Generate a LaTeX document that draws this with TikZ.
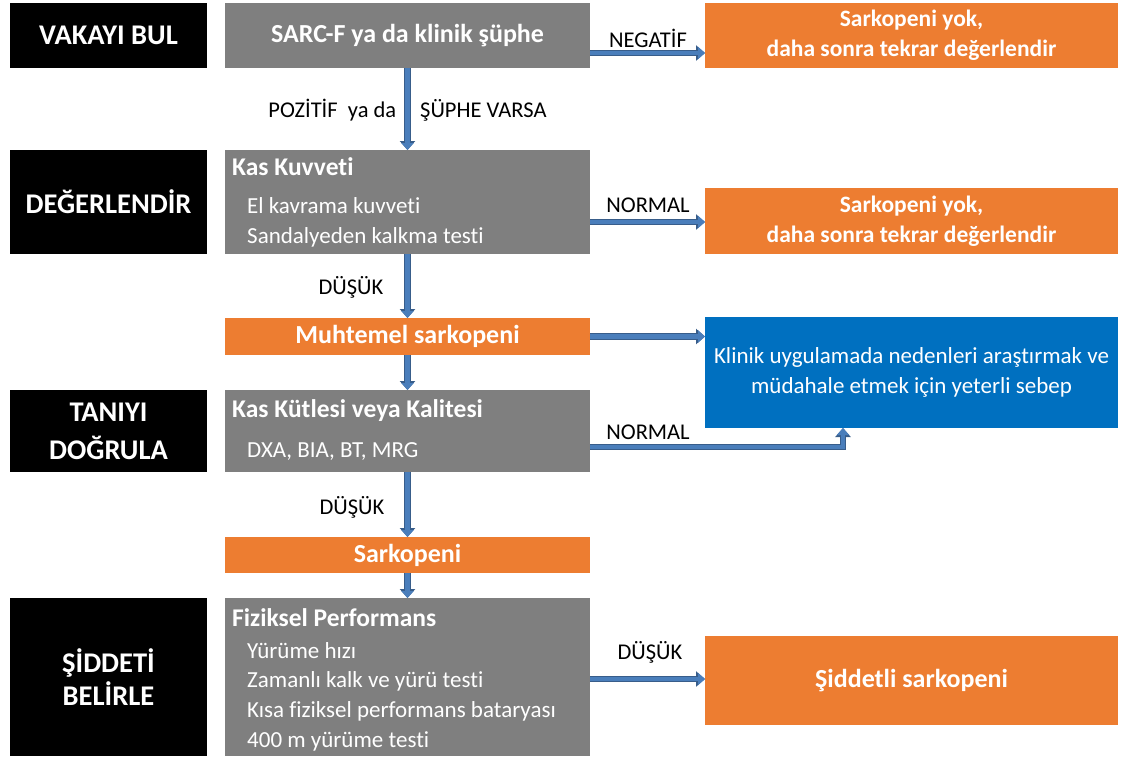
\documentclass[tikz,border=0pt]{standalone}
\usepackage{fontspec}
\setmainfont{Carlito}[Ligatures=NoCommon]
\usetikzlibrary{arrows.meta}
\definecolor{gboxc}{RGB}{127,127,127}
\definecolor{oboxc}{RGB}{237,125,49}
\definecolor{bboxc}{RGB}{0,112,192}
\definecolor{arrc}{RGB}{74,126,187}
\definecolor{arrd}{RGB}{56,93,138}
\begin{document}
\begin{tikzpicture}[x=1pt,y=-1pt,
  base/.style={inner sep=0pt, outer sep=0pt, text=white, align=center},
  blk/.style={base, fill=black, minimum width=197pt, font=\bfseries\fontsize{28.5}{38}\selectfont},
  gry/.style={base, fill=gboxc, minimum width=365pt},
  org/.style={base, fill=oboxc, font=\bfseries\fontsize{26}{30}\selectfont},
  orgr/.style={org, minimum width=413pt, font=\bfseries\fontsize{23.5}{30}\selectfont},
  blu/.style={base, fill=bboxc, minimum width=413pt, font=\fontsize{23}{30}\selectfont},
  ttl/.style={anchor=west, inner sep=0pt, text=white, font=\bfseries\fontsize{25.5}{28}\selectfont},
  itm/.style={anchor=west, inner sep=0pt, text=white, font=\fontsize{23}{26}\selectfont},
  lbl/.style={inner sep=0pt, text=black, font=\fontsize{22.5}{26}\selectfont},
  arr/.style={preaction={draw=arrd, line width=6.5pt, -{Triangle[width=15pt,length=9pt]}},
              draw=arrc, line width=4.5pt, -{Triangle[width=12pt,length=7pt]}}
]
\useasboundingbox (0,0) rectangle (1121,758);
% left column
\node[blk, minimum height=65pt] (b1) at (108.5,35.5) {VAKAYI BUL};
\node[blk, minimum height=104pt] (b2) at (108.5,202) {DEĞERLENDİR};
\node[blk, minimum height=82pt] (b3) at (108.5,431) {TANIYI\\DOĞRULA};
\node[blk, minimum height=158pt, font=\bfseries\fontsize{28.5}{33}\selectfont] (b4) at (108.5,677) {ŞİDDETİ\\BELİRLE};
% gray column
\node[gry, minimum height=65pt, font=\bfseries\fontsize{26}{30}\selectfont] (sarc) at (407.5,35.5) {SARC-F ya da klinik şüphe};
\node[gry, minimum height=104pt] (kk) at (407.5,202) {};
\node[ttl] (kkt) at (232,167) {Kas Kuvveti};
\node[itm] (kk1) at (247,206) {El kavrama kuvveti};
\node[itm] (kk2) at (247,237) {Sandalyeden kalkma testi};
\node[org, minimum width=365pt, minimum height=37pt] (muh) at (407.5,336.5) {Muhtemel sarkopeni};
\node[gry, minimum height=82pt] (kut) at (407.5,431) {};
\node[ttl] (kutt) at (232,411) {Kas Kütlesi veya Kalitesi};
\node[itm] (kut1) at (247,452) {DXA, BIA, BT, MRG};
\node[org, minimum width=365pt, minimum height=36pt] (sark) at (407.5,555) {Sarkopeni};
\node[gry, minimum height=158pt] (fiz) at (407.5,677) {};
\node[ttl] (fizt) at (232,618) {Fiziksel Performans};
\node[itm] (fiz1) at (247,651) {Yürüme hızı};
\node[itm] (fiz2) at (247,681) {Zamanlı kalk ve yürü testi};
\node[itm] (fiz3) at (247,711) {Kısa fiziksel performans bataryası};
\node[itm] (fiz4) at (247,741) {400 m yürüme testi};
% right column
\node[orgr, minimum height=65pt] (r1) at (911.5,35.5) {Sarkopeni yok,\\daha sonra tekrar değerlendir};
\node[orgr, minimum height=66pt] (r2) at (911.5,221) {Sarkopeni yok,\\daha sonra tekrar değerlendir};
\node[blu, minimum height=111pt] (blue) at (911.5,372.5) {Klinik uygulamada nedenleri araştırmak ve\\müdahale etmek için yeterli sebep};
\node[org, minimum width=413pt, minimum height=89pt] (r4) at (911.5,680.5) {Şiddetli sarkopeni};
% arrows
\draw[arr] (sarc.south) -- (kk.north);
\draw[arr] (kk.south) -- (muh.north);
\draw[arr] (muh.south) -- (kut.north);
\draw[arr] (kut.south) -- (sark.north);
\draw[arr] (sark.south) -- (fiz.north);
\draw[arr] (sarc.east |- 0,53) -- (r1.west |- 0,53);
\draw[arr] (kk.east |- 0,222) -- (r2.west |- 0,222);
\draw[arr] (muh.east) -- (blue.west |- muh.east);
\coordinate (elb) at (843,447);
\draw[arr] (kut.east |- elb) -- (elb) -- (elb |- blue.south);
\draw[arr] (fiz.east |- 0,679) -- (r4.west |- 0,679);
% labels
\node[lbl] (l1) at (648,38) {NEGATİF};
\node[lbl] (l2) at (407.5,110) {POZİTİF\ \ ya da\hspace{24pt}ŞÜPHE VARSA};
\node[lbl] (l3) at (648,205) {NORMAL};
\node[lbl] (l4) at (351,287) {DÜŞÜK};
\node[lbl] (l5) at (648,432) {NORMAL};
\node[lbl] (l6) at (352,507) {DÜŞÜK};
\node[lbl] (l7) at (650,652) {DÜŞÜK};
\end{tikzpicture}
\end{document}
